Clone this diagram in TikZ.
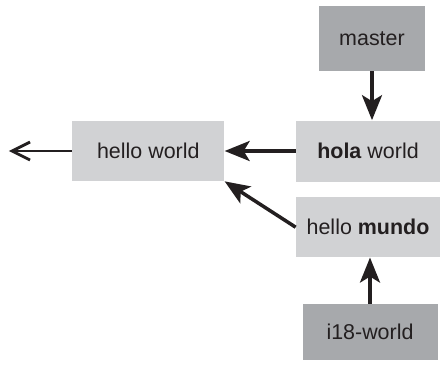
\documentclass[tikz,border=0pt]{standalone}
\usepackage{fontspec}
\setmainfont{Liberation Sans}
\usetikzlibrary{positioning,arrows.meta}
\definecolor{commit}{HTML}{D1D2D4}
\definecolor{branch}{HTML}{A7A9AC}
\definecolor{dark}{HTML}{231F20}
\tikzset{
    commitbox/.style={rectangle, fill=commit, minimum width=2.88cm, minimum height=1.2cm, align=center, font=\fontsize{12.2}{14}\selectfont, text=dark},
    branchbox/.style={rectangle, fill=branch, minimum height=1.2cm, align=center, font=\fontsize{12.2}{14}\selectfont, text=dark},
    arrow/.style={-{Stealth[length=0.5cm, width=0.4cm, inset=0.12cm]}, line width=2pt, color=dark},
    openarrow/.style={-{Straight Barb[length=0.36cm, width=0.36cm, line width=1.6pt]}, line width=1.6pt, color=dark}
}
\begin{document}
\begin{tikzpicture}
\useasboundingbox (0,0) rectangle (8.8,-7.32);

\node[commitbox, minimum height=1.22cm] (hola) at (7.36,-3.02) {\textbf{hola} world};
\node[branchbox, minimum width=2.12cm, minimum height=1.3cm, above=0.98cm of hola, xshift=0.08cm] (master) {master};
\node[commitbox, below=0.3cm of hola] (mundo) {hello \textbf{mundo}};
\node[branchbox, minimum width=2.7cm, minimum height=1.12cm, below=0.92cm of mundo, xshift=0.04cm] (i18) {i18-world};
\node[commitbox, minimum width=3.04cm, left=1.42cm of hola] (hello) {hello world};
\coordinate[left=1.26cm of hello] (parent);

% branch pointers
\draw[arrow] (master.south) -- (master.south |- hola.north);
\draw[arrow] (i18.north) -- (i18.north |- mundo.south);
% parents
\draw[arrow] (hola.west) -- (hello.east);
\draw[arrow] (mundo.west) -- (hello.south east);
\draw[openarrow] (hello.west) -- (parent);

\end{tikzpicture}
\end{document}
